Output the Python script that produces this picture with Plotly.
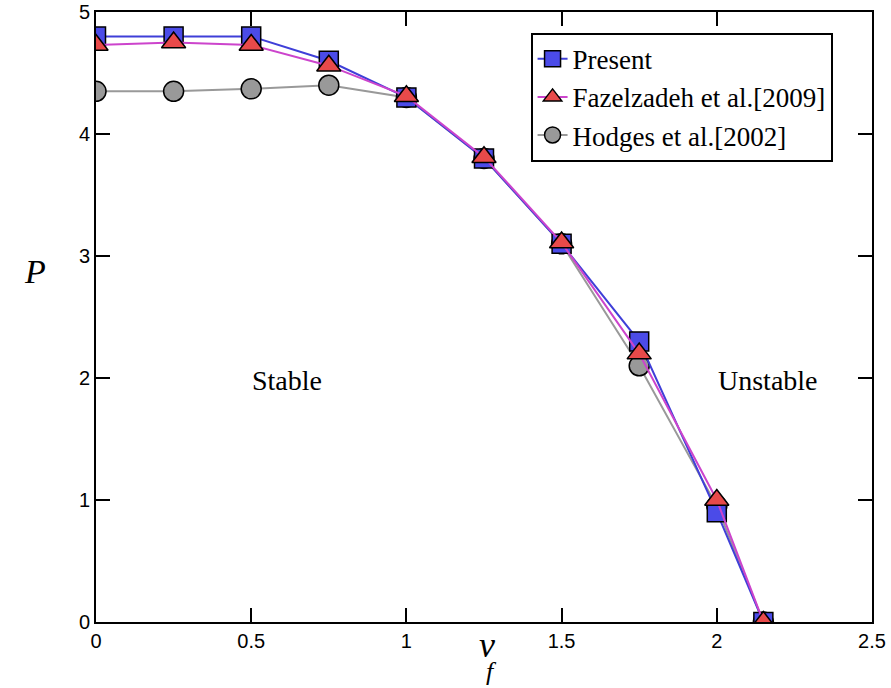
import plotly.graph_objects as go

x_vals = [0, 0.25, 0.5, 0.75, 1.0, 1.25, 1.5, 1.75, 2.0, 2.15]
present = [4.8, 4.8, 4.8, 4.6, 4.3, 3.8, 3.1, 2.3, 0.9, 0.0]
fazel = [4.73, 4.75, 4.73, 4.56, 4.31, 3.81, 3.11, 2.2, 1.0, 0.0]
hodges = [4.35, 4.35, 4.37, 4.4, 4.3, 3.8, 3.1, 2.1, 0.95, 0.0]
x_ticks = [0, 0.5, 1, 1.5, 2, 2.5]
x_tick_text = ["0", "0.5", "1", "1.5", "2", "2.5"]
y_ticks = [0, 1, 2, 3, 4, 5]

fig = go.Figure()
fig.add_trace(go.Scatter(
    x=x_vals, y=hodges, mode="lines+markers", name="Hodges et al.[2002]",
    line=dict(color="#999999", width=2),
    marker=dict(symbol="circle", size=20, color="#999999", line=dict(color="black", width=1.5)),
    legendrank=3))
fig.add_trace(go.Scatter(
    x=x_vals, y=present, mode="lines+markers", name="Present",
    line=dict(color="#3f3fd8", width=2),
    marker=dict(symbol="square", size=19, color="#4b4be8", line=dict(color="black", width=1.5)),
    legendrank=1))
fig.add_trace(go.Scatter(
    x=x_vals, y=fazel, mode="lines+markers", name="Fazelzadeh et al.[2009]",
    line=dict(color="#cc44cc", width=2),
    marker=dict(symbol="triangle-up", size=21, color="#e84a4a", line=dict(color="black", width=1.5)),
    legendrank=2))

axis_common = dict(
    showgrid=False, zeroline=False, showline=True, linecolor="black", linewidth=2,
    mirror="ticks", ticks="inside", ticklen=14, tickwidth=2, tickcolor="black",
    automargin=False,
    tickfont=dict(family="Liberation Sans, Arial", size=20, color="black"),
)
fig.update_xaxes(range=[0, 2.5], tickvals=x_ticks, ticktext=x_tick_text, **axis_common)
fig.update_yaxes(range=[0, 5], tickvals=y_ticks, **axis_common)

serif = "Liberation Serif, Times New Roman, serif"
fig.add_annotation(x=0.615, y=1.98, text="Stable", showarrow=False,
                   font=dict(family=serif, size=28, color="black"))
fig.add_annotation(x=2.165, y=1.98, text="Unstable", showarrow=False,
                   font=dict(family=serif, size=28, color="black"))
fig.add_annotation(xref="paper", yref="paper", x=-0.095, y=0.574, text="<i>P</i>", showarrow=False,
                   font=dict(family=serif, size=34, color="black"))
fig.add_annotation(xref="paper", yref="paper", x=0.504, y=-0.074, text="<i>v</i>", showarrow=False,
                   font=dict(family=serif, size=36, color="black"))
fig.add_annotation(xref="paper", yref="paper", x=0.510, y=-0.108, text="<i>f</i>", showarrow=False,
                   font=dict(family=serif, size=26, color="black"))

fig.update_layout(
    width=891, height=688,
    margin=dict(l=96, r=19, t=12, b=66),
    paper_bgcolor="white", plot_bgcolor="white",
    showlegend=True,
    legend=dict(x=0.56, y=0.966, xanchor="left", yanchor="top",
                bordercolor="black", borderwidth=2, bgcolor="white",
                font=dict(family=serif, size=27, color="black"),
                tracegroupgap=0, itemwidth=30),
)
fig.write_html("out.html")
